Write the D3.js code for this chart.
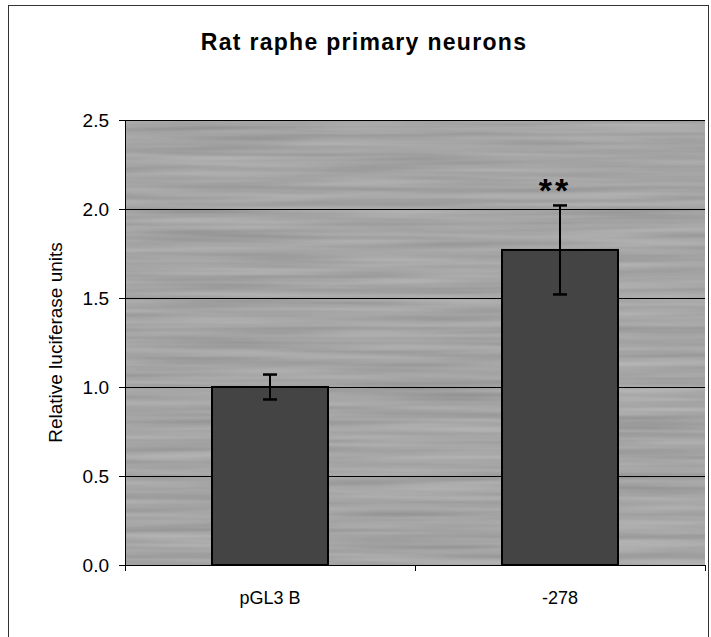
<!DOCTYPE html>
<html>
<head>
<meta charset="utf-8">
<script src="https://cdn.jsdelivr.net/npm/d3@7"></script>
<style>
  body { margin: 0; background: #fff; }
  text { font-family: "Liberation Sans", Arial, sans-serif; fill: #000; }
</style>
</head>
<body>
<svg id="chart" width="711" height="637"></svg>
<script>
// data
var categories = ['pGL3 B', '-278'];
var values = [1.0, 1.77];
var errors = [0.07, 0.25];
var marks = ['', '**'];
var yTicks = [0, 0.5, 1.0, 1.5, 2.0, 2.5];

var svg = d3.select('#chart');
var padding = {t: 120, r: 6, b: 72, l: 125};
var width = 711 - padding.l - padding.r;
var height = 637 - padding.t - padding.b;

// outer frame
svg.append('rect')
  .attr('x', 8.5).attr('y', 5.5)
  .attr('width', 700).attr('height', 640)
  .attr('fill', 'none').attr('stroke', '#333').attr('stroke-width', 1);

// texture for the plot area
var defs = svg.append('defs');
var f = defs.append('filter').attr('id', 'grain')
  .attr('x', 0).attr('y', 0).attr('width', 1).attr('height', 1);
f.append('feTurbulence').attr('type', 'fractalNoise')
  .attr('baseFrequency', '0.005 0.15').attr('numOctaves', 2).attr('seed', 3).attr('result', 'n');
f.append('feColorMatrix').attr('type', 'matrix')
  .attr('values', '0 0 0 0 0  0 0 0 0 0  0 0 0 0 0  0 0 0 0.6 0').attr('result', 'a');
f.append('feComposite').attr('in', 'a').attr('in2', 'SourceGraphic').attr('operator', 'over');

var x = d3.scaleBand().domain(categories).range([0, width]).paddingInner(0.6).paddingOuter(0.3);
var y = d3.scaleLinear().domain([0, 2.5]).range([height, 0]);

var g = svg.append('g').attr('transform', 'translate(' + padding.l + ',' + padding.t + ')');

g.append('rect')
  .attr('width', width).attr('height', height)
  .attr('fill', '#b9b9b9');
g.append('rect')
  .attr('width', width).attr('height', height)
  .attr('fill', '#b9b9b9').attr('filter', 'url(#grain)').attr('opacity', 0.7);

// gridlines
g.selectAll('line.grid')
  .data(yTicks.slice(1))
  .enter().append('line')
  .attr('class', 'grid')
  .attr('x1', 0).attr('x2', width)
  .attr('y1', function(d) { return Math.round(y(d)) + 0.5; })
  .attr('y2', function(d) { return Math.round(y(d)) + 0.5; })
  .attr('stroke', '#000').attr('stroke-width', 1);

// bars
g.selectAll('rect.bar')
  .data(values)
  .enter().append('rect')
  .attr('class', 'bar')
  .attr('x', function(d, i) { return x(categories[i]); })
  .attr('y', function(d) { return y(d); })
  .attr('width', x.bandwidth())
  .attr('height', function(d) { return height - y(d); })
  .attr('fill', '#444').attr('stroke', '#000').attr('stroke-width', 2);

// error bars
var eb = g.selectAll('g.err')
  .data(values)
  .enter().append('g')
  .attr('class', 'err')
  .attr('transform', function(d, i) { return 'translate(' + (x(categories[i]) + x.bandwidth() / 2) + ',0)'; });
eb.append('line')
  .attr('y1', function(d, i) { return y(d + errors[i]); })
  .attr('y2', function(d, i) { return y(d - errors[i]); })
  .attr('stroke', '#000').attr('stroke-width', 2);
eb.append('line')
  .attr('x1', -7).attr('x2', 7)
  .attr('y1', function(d, i) { return y(d + errors[i]); })
  .attr('y2', function(d, i) { return y(d + errors[i]); })
  .attr('stroke', '#000').attr('stroke-width', 2.5);
eb.append('line')
  .attr('x1', -7).attr('x2', 7)
  .attr('y1', function(d, i) { return y(d - errors[i]); })
  .attr('y2', function(d, i) { return y(d - errors[i]); })
  .attr('stroke', '#000').attr('stroke-width', 2.5);

// significance marks
g.selectAll('text.mark')
  .data(values)
  .enter().append('text')
  .attr('class', 'mark')
  .attr('x', function(d, i) { return x(categories[i]) + x.bandwidth() / 2 - 5; })
  .attr('y', function(d, i) { return y(d + errors[i]) - 3; })
  .attr('text-anchor', 'middle')
  .style('font-size', '34px').style('font-weight', 'bold')
  .style('letter-spacing', '3px')
  .text(function(d, i) { return marks[i]; });

// axes
var yAxis = g.append('g')
  .call(d3.axisLeft(y).tickValues(yTicks).tickSize(6).tickPadding(10).tickFormat(d3.format('.1f')));
yAxis.select('.domain').attr('stroke', '#000').attr('d', 'M0.5,0V' + height);
yAxis.selectAll('text').style('font-size', '19px');

var xAxis = g.append('g').attr('transform', 'translate(0,' + height + ')');
xAxis.append('line')
  .attr('x1', -6).attr('x2', width).attr('y1', 0.5).attr('y2', 0.5)
  .attr('stroke', '#000');
xAxis.selectAll('line.xt')
  .data([0, 1, 2])
  .enter().append('line')
  .attr('class', 'xt')
  .attr('x1', function(d) { return d * width / 2 + 0.5; })
  .attr('x2', function(d) { return d * width / 2 + 0.5; })
  .attr('y1', 0).attr('y2', 6)
  .attr('stroke', '#000');
xAxis.selectAll('text')
  .data(categories)
  .enter().append('text')
  .attr('x', function(d) { return x(d) + x.bandwidth() / 2; })
  .attr('y', 39)
  .attr('text-anchor', 'middle')
  .style('font-size', '18px')
  .text(function(d) { return d; });

// title
svg.append('text')
  .attr('x', 364).attr('y', 50)
  .attr('text-anchor', 'middle')
  .style('font-size', '23px').style('font-weight', 'bold')
  .style('letter-spacing', '1.3px')
  .text('Rat raphe primary neurons');

// y label
svg.append('text')
  .attr('transform', 'translate(62,' + (padding.t + height / 2) + ') rotate(-90)')
  .attr('text-anchor', 'middle')
  .style('font-size', '19px')
  .text('Relative luciferase units');
</script>
</body>
</html>
